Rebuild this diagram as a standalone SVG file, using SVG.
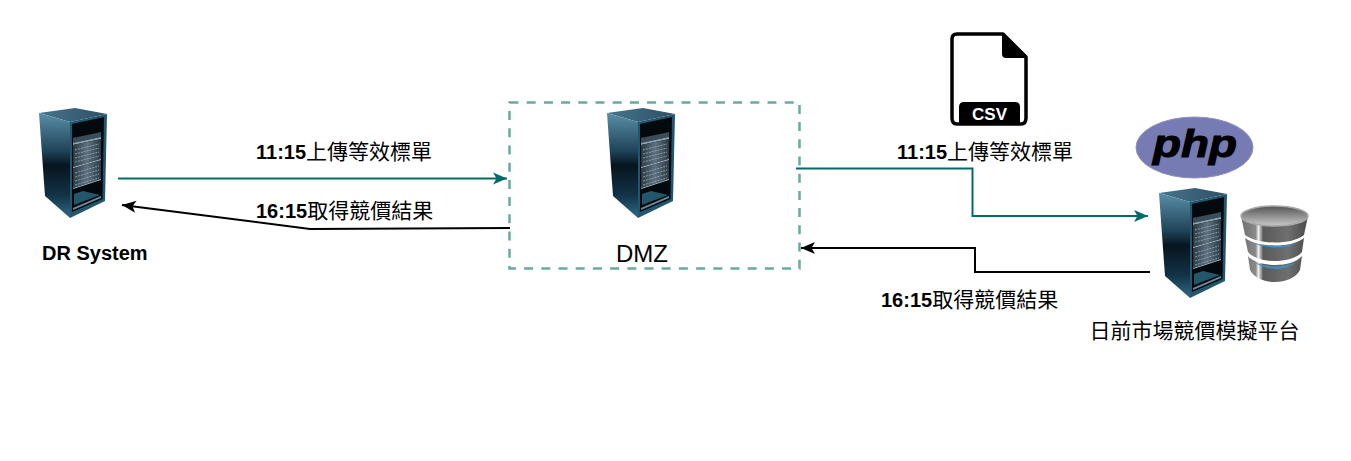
<svg xmlns="http://www.w3.org/2000/svg" xmlns:xlink="http://www.w3.org/1999/xlink" width="1351" height="461" viewBox="0 0 1351 461">
<style>
.lb{font-family:"Noto Sans CJK TC","Liberation Sans",sans-serif;font-size:21px;fill:#000}
.b{font-family:"Liberation Sans",Arial,sans-serif;font-weight:bold;font-size:20px}
.c{fill:none;stroke-width:2}
.teal{stroke:#006c68}
.blk{stroke:#000}
.tier{fill:url(#cyl)}
.glow{fill:#3f8fc8}
</style>
<defs>
<marker id="at" markerUnits="userSpaceOnUse" markerWidth="16" markerHeight="14" refX="14" refY="6" orient="auto" overflow="visible"><path d="M0,0L14,6L0,12L3.500,6Z" fill="#006c68"/></marker>
<marker id="ak" markerUnits="userSpaceOnUse" markerWidth="16" markerHeight="14" refX="14" refY="6" orient="auto" overflow="visible"><path d="M0,0L14,6L0,12L3.500,6Z" fill="#000"/></marker>
<linearGradient id="side" x1="0" y1="0" x2="0" y2="1"><stop offset="0" stop-color="#5a8fa8"/><stop offset=".36" stop-color="#1f4459"/><stop offset=".5" stop-color="#06151e"/><stop offset=".78" stop-color="#123246"/><stop offset="1" stop-color="#2f6a88"/></linearGradient>
<linearGradient id="top" x1="0" y1="0" x2="1" y2="0"><stop offset="0" stop-color="#47768e"/><stop offset="1" stop-color="#2c4f63"/></linearGradient>
<linearGradient id="unit" x1="0" y1="0" x2="1" y2="0"><stop offset="0" stop-color="#2c3a44"/><stop offset=".5" stop-color="#5d7180"/><stop offset="1" stop-color="#2c3a44"/></linearGradient>
<linearGradient id="cyl" gradientUnits="userSpaceOnUse" x1="1241" y1="0" x2="1308" y2="0"><stop offset="0" stop-color="#6e6e6e"/><stop offset=".22" stop-color="#8a8a8a"/><stop offset=".26" stop-color="#f2f2f2"/><stop offset=".33" stop-color="#5a5a5a"/><stop offset=".7" stop-color="#6f6f6f"/><stop offset="1" stop-color="#4a4a4a"/></linearGradient>
<linearGradient id="cyltop" x1="0" y1="0" x2="0" y2="1"><stop offset="0" stop-color="#555"/><stop offset="1" stop-color="#c9c9c9"/></linearGradient>
<g id="srv">
<path d="M0,5L36,0L68,6L31,14Z" fill="url(#top)"/>
<path d="M0,5L31,14L31,110L6,88Z" fill="url(#side)"/>
<path d="M31,14L68,6L66,93L31,110Z" fill="#21566f"/>
<path d="M33,16L65,9L63.500,91L33,104Z" fill="#03090d"/>
<path d="M34,30L62,24L62,29L34,35Z" fill="#3a4c57"/>
<path d="M34,35L62,29L62,31L34,37Z" fill="#8fa3af"/>
<path d="M34,37L62,31L62,51L34,59Z" fill="url(#unit)"/>
<path d="M34,60L62,52L62,71L34,80Z" fill="url(#unit)"/>
<path d="M36,42L60,36M36,46L60,40M36,50L60,44M36,54L60,48M36,65L60,58M36,69L60,62M36,73L60,66M36,77L60,70" stroke="#9db0bb" stroke-width=".8" stroke-dasharray="2 1" fill="none"/>
<path d="M34,59L62,51L62,52L34,60Z" fill="#a9bac4"/>
<path d="M34,80L62,71L62,72L34,81Z" fill="#9fb2bd"/>
<path d="M34,100L62,88L62,90L34,102Z" fill="#6f8a99"/>
<path d="M35,97L61,87L44,83L35,86Z" fill="#24566a"/>
</g>
</defs>
<rect width="1351" height="461" fill="#fff"/>
<g id="connectors">
<path class="c teal" d="M118,178.500H507" marker-end="url(#at)"/>
<path class="c blk" d="M510,228L310,229L122,205" marker-end="url(#ak)"/>
<path class="c teal" d="M796,168.500H972.500V216H1148" marker-end="url(#at)"/>
<path class="c blk" d="M1150,272H975V248H801" marker-end="url(#ak)"/>
</g>
<g id="dr-system">
<use xlink:href="#srv" href="#srv" x="39" y="108"/>
<text class="b" x="42" y="260">DR System</text>
</g>
<g id="dmz">
<rect x="509.500" y="102.500" width="290" height="166" fill="none" stroke="#67ab9f" stroke-width="2.500" stroke-dasharray="9 8.200"/>
<use xlink:href="#srv" href="#srv" x="607" y="108"/>
<text x="642" y="262" font-family="Liberation Sans,Arial,sans-serif" font-size="24" text-anchor="middle">DMZ</text>
</g>
<g id="csv-file">
<path d="M1003,34H957Q952,34 952,39V118Q952,124 957,124H1021Q1026,124 1026,118V57Z" fill="#fff" stroke="#000" stroke-width="3.500" stroke-linejoin="round"/>
<path d="M1003,33L1027,56V58H1006Q1002,58 1002,54V33Z" fill="#000"/>
<path d="M964,102H1015Q1020,102 1020,107V124H959V107Q959,102 964,102Z" fill="#000"/>
<text class="b" x="989.500" y="120" style="font-size:17px" fill="#fff" text-anchor="middle">CSV</text>
</g>
<g id="platform">
<ellipse cx="1194.500" cy="147.500" rx="58.500" ry="30.500" fill="#777bb3" stroke="#8d90c0"/>
<text x="1195" y="157" font-family="Liberation Sans,Arial,sans-serif" font-weight="bold" font-style="italic" font-size="38" text-anchor="middle" fill="#000" stroke="#000" stroke-width="1" textLength="84" lengthAdjust="spacingAndGlyphs">php</text>
<use xlink:href="#srv" href="#srv" x="1159" y="188"/>
<g id="database">
<path class="tier" d="M1241,216L1245,235C1258,245 1292,245 1304,235L1308,216Z"/>
<path class="tier" d="M1245,238C1258,248 1292,248 1304,238L1302,252C1292,264 1258,264 1248,252Z"/>
<path class="tier" d="M1248,256C1258,268 1292,268 1302,256L1300,270C1292,286 1258,286 1250,270Z"/>
<path class="glow" d="M1254,243C1268,247 1284,247 1298,243C1286,249 1266,249 1254,243Z"/>
<path class="glow" d="M1254,262C1268,268 1284,268 1296,262C1286,271 1266,271 1254,262Z"/>
<ellipse cx="1274.500" cy="216" rx="33.500" ry="10" fill="url(#cyltop)" stroke="#a8a8a8" stroke-width="1.500"/>
</g>
<text class="lb" x="1194.500" y="338" text-anchor="middle">日前市場競價模擬平台</text>
</g>
<g id="labels">
<text class="lb" x="256" y="159"><tspan class="b">11:15</tspan>上傳等效標單</text>
<text class="lb" x="256" y="218"><tspan class="b">16:15</tspan>取得競價結果</text>
<text class="lb" x="897" y="159"><tspan class="b">11:15</tspan>上傳等效標單</text>
<text class="lb" x="881" y="307"><tspan class="b">16:15</tspan>取得競價結果</text>
</g>
</svg>
